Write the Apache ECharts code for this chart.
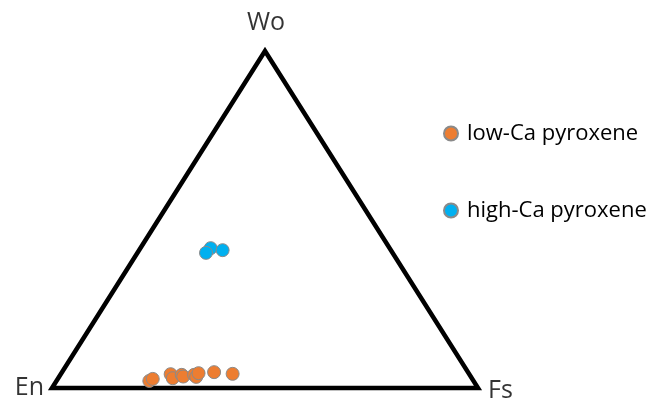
<!DOCTYPE html>
<html>
<head>
<meta charset="utf-8">
<script src="https://cdn.jsdelivr.net/npm/echarts@6/dist/echarts.min.js"></script>
<style>
  html, body { margin: 0; padding: 0; background: #fff; }
  #chart { width: 653px; height: 403px; }
</style>
</head>
<body>
<div id="chart"></div>
<script>
// Pôles du diagramme ternaire
const endMembers = ['En', 'Wo', 'Fs'];

// Compositions (en %) : Wo et Fs, En = 100 - Wo - Fs
const lowCaWo = [2.1, 2.7, 4.1, 2.9, 3.9, 3.4, 3.9, 3.3, 4.4, 4.7, 4.2];
const lowCaFs = [21.8, 22.3, 25.8, 26.9, 28.5, 29.1, 31.4, 32.2, 32.2, 35.7, 40.3];

const highCaWo = [41.5, 40.1, 40.9];
const highCaFs = [16.5, 16.1, 19.6];

const seriesNames = ['low-Ca pyroxene', 'high-Ca pyroxene'];

// Projection ternaire -> cartésien (x : 0..100, y : 0..100)
function toXY(wo, fs) {
    return [fs + wo / 2, wo];
}

const vertexComp = {
    En: [0, 0],
    Wo: [100, 0],
    Fs: [0, 100]
};
const triangle = endMembers.map(k => toXY(vertexComp[k][0], vertexComp[k][1]));

const labelPos = {
    En: { position: 'left', distance: 8, offset: [0, 0] },
    Wo: { position: 'top', distance: 16, offset: [1, 0] },
    Fs: { position: 'right', distance: 10, offset: [0, 3] }
};

const markerStyle = { borderColor: '#8a8a8a', borderWidth: 1, opacity: 1 };

const chart = echarts.init(document.getElementById('chart'));

chart.setOption({
    animation: false,
    grid: { left: 52, top: 51, width: 426, height: 337 },
    xAxis: { type: 'value', min: 0, max: 100, show: false },
    yAxis: { type: 'value', min: 0, max: 100, show: false },
    legend: {
        orient: 'vertical',
        left: 438,
        top: 117,
        itemGap: 54,
        itemWidth: 14,
        itemHeight: 14,
        icon: 'circle',
        data: seriesNames,
        textStyle: {
            fontFamily: 'Open Sans',
            fontSize: 22,
            lineHeight: 23,
            color: '#000',
            padding: [0, 0, 0, 4]
        }
    },
    series: [
        {
            // contour du triangle
            type: 'custom',
            silent: true,
            data: triangle,
            renderItem: function (params, api) {
                if (params.dataIndex !== 0) return;
                const pts = triangle.map(p => api.coord(p));
                return {
                    type: 'polygon',
                    shape: { points: pts },
                    style: { fill: 'none', stroke: '#000', lineWidth: 4.5, lineJoin: 'miter' }
                };
            },
            z: 1
        },
        {
            // noms des pôles
            type: 'scatter',
            silent: true,
            symbolSize: 0,
            data: endMembers.map((k, i) => ({
                value: triangle[i],
                label: Object.assign({
                    show: true,
                    formatter: k,
                    fontFamily: 'Open Sans',
                    fontSize: 25,
                    color: '#000'
                }, labelPos[k])
            })),
            z: 1
        },
        {
            name: seriesNames[0],
            type: 'scatter',
            symbolSize: 13,
            itemStyle: Object.assign({ color: '#ED7D31' }, markerStyle),
            data: lowCaWo.map((wo, i) => toXY(wo, lowCaFs[i])),
            z: 3
        },
        {
            name: seriesNames[1],
            type: 'scatter',
            symbolSize: 13,
            itemStyle: Object.assign({ color: '#00B0F0' }, markerStyle),
            data: highCaWo.map((wo, i) => toXY(wo, highCaFs[i])),
            z: 3
        }
    ]
});
</script>
</body>
</html>
